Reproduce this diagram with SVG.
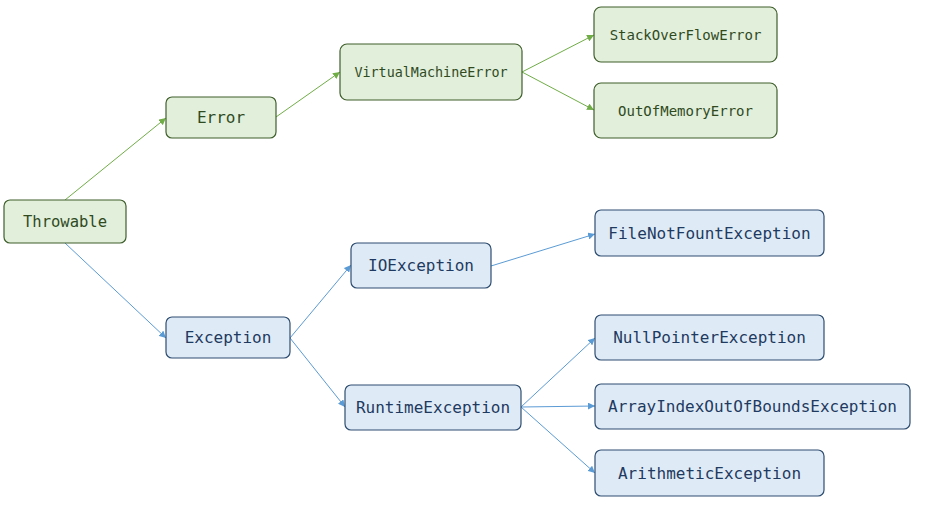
<svg xmlns="http://www.w3.org/2000/svg" width="925" height="510" viewBox="0 0 925 510">
<defs>
<marker id="ag" viewBox="0 0 10 10" refX="10" refY="5" markerWidth="7" markerHeight="7" markerUnits="userSpaceOnUse" orient="auto"><path d="M0,0 L10,5 L0,10 z" fill="#70ad47"/></marker>
<marker id="ab" viewBox="0 0 10 10" refX="10" refY="5" markerWidth="7" markerHeight="7" markerUnits="userSpaceOnUse" orient="auto"><path d="M0,0 L10,5 L0,10 z" fill="#5b9bd5"/></marker>
<style>
.g rect{fill:#e2efda;stroke:#3f5f2c;stroke-width:1.2}
.g text{fill:#2f4a1f}
.b rect{fill:#deebf7;stroke:#2e4d70;stroke-width:1.2}
.b text{fill:#1f3a60}
text{font-family:"DejaVu Sans Mono","Liberation Mono",monospace;font-size:16px;text-anchor:middle;dominant-baseline:central}
.lg{stroke:#70ad47;stroke-width:1;fill:none;marker-end:url(#ag)}
.lb{stroke:#5b9bd5;stroke-width:1;fill:none;marker-end:url(#ab)}
</style>
</defs>
<g id="connectors">
<line class="lg" x1="65" y1="200" x2="166" y2="118"/>
<line class="lg" x1="276" y1="117" x2="340" y2="72"/>
<line class="lg" x1="522" y1="72" x2="594" y2="35"/>
<line class="lg" x1="522" y1="72" x2="594" y2="110"/>
<line class="lb" x1="65" y1="243" x2="166" y2="338"/>
<line class="lb" x1="290" y1="338" x2="351" y2="265"/>
<line class="lb" x1="290" y1="338" x2="345" y2="407"/>
<line class="lb" x1="491" y1="266" x2="595" y2="234"/>
<line class="lb" x1="521" y1="407" x2="595" y2="338"/>
<line class="lb" x1="521" y1="407" x2="595" y2="406"/>
<line class="lb" x1="521" y1="407" x2="595" y2="473"/>
</g>
<g id="throwable" class="g"><rect x="4" y="200" width="122" height="43" rx="6"/><text x="65" y="221.5" style="font-size:15.5px">Throwable</text></g>
<g id="error" class="g"><rect x="166" y="97" width="110" height="41" rx="6"/><text x="221" y="117.5">Error</text></g>
<g id="vme" class="g"><rect x="340" y="44" width="182" height="56" rx="7"/><text x="431" y="72" style="font-size:13.4px">VirtualMachineError</text></g>
<g id="sof" class="g"><rect x="594" y="7" width="183" height="55" rx="7"/><text x="685.5" y="34.5" style="font-size:14px">StackOverFlowError</text></g>
<g id="oom" class="g"><rect x="594" y="83" width="183" height="55" rx="7"/><text x="685.5" y="110.5" style="font-size:14px">OutOfMemoryError</text></g>
<g id="exception" class="b"><rect x="166" y="317" width="124" height="41" rx="6"/><text x="228" y="337.5">Exception</text></g>
<g id="ioexception" class="b"><rect x="351" y="243" width="140" height="45" rx="6"/><text x="421" y="265.5">IOException</text></g>
<g id="runtime" class="b"><rect x="345" y="385" width="176" height="45" rx="6"/><text x="433" y="407.5">RuntimeException</text></g>
<g id="filenot" class="b"><rect x="595" y="210" width="229" height="46" rx="6"/><text x="709.5" y="233">FileNotFountException</text></g>
<g id="npe" class="b"><rect x="595" y="315" width="229" height="45" rx="6"/><text x="709.5" y="337.5">NullPointerException</text></g>
<g id="aioobe" class="b"><rect x="595" y="384" width="315" height="45" rx="6"/><text x="752.5" y="406.5">ArrayIndexOutOfBoundsException</text></g>
<g id="arith" class="b"><rect x="595" y="450" width="229" height="46" rx="6"/><text x="709.5" y="473">ArithmeticException</text></g>
</svg>
